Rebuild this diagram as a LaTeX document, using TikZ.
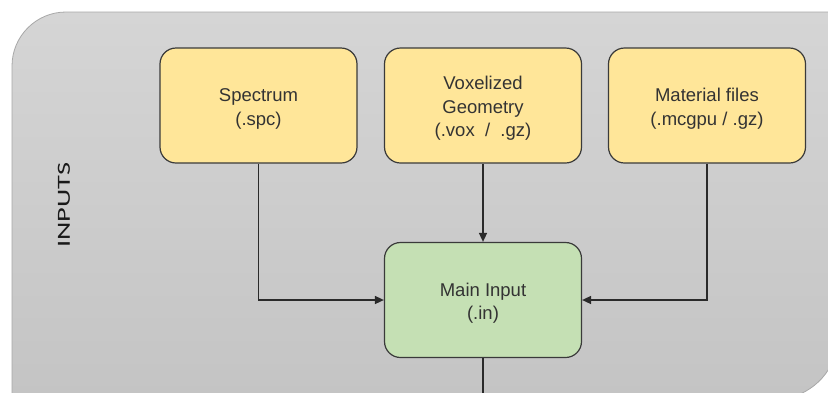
\documentclass[tikz,border=0pt]{standalone}
\usepackage{fontspec}
\setmainfont{Liberation Sans}
\newfontfamily\carlito{Carlito}
\usetikzlibrary{arrows.meta}
\definecolor{boxyellow}{HTML}{FFE699}
\definecolor{boxgreen}{HTML}{C5E0B4}
\definecolor{bgtop}{HTML}{D5D5D5}
\definecolor{bgbot}{HTML}{C3C3C3}
\definecolor{bgline}{HTML}{A8A8A8}
\definecolor{edge}{HTML}{3A3A3A}
\definecolor{txt}{HTML}{333333}
\definecolor{conn}{HTML}{2A2A2A}
\newcommand{\topstrut}{\rule{0pt}{19.5pt}}
\begin{document}
\begin{tikzpicture}[x=1pt,y=-1pt,
  filebox/.style={draw=edge, line width=1.2pt, fill=boxyellow, rounded corners=16pt,
    minimum width=197pt, minimum height=115pt, align=center, inner sep=0pt,
    text=txt, font=\fontsize{18.5}{23.5}\selectfont},
  mainbox/.style={filebox, fill=boxgreen},
  conn/.style={draw=conn, line width=1.5pt},
  arr/.style={conn, -{Triangle[length=9pt,width=8pt]}}]
\useasboundingbox (0,0) rectangle (828,392);
\clip (0,0) rectangle (828,392);
\draw[draw=bgline, line width=0.8pt, top color=bgtop, bottom color=bgbot]
  (12,420) -- (12,66) .. controls (12,36.2) and (36.2,12) .. (66,12)
  -- (836,12) -- (836,344)
  .. controls (836,373.8) and (806.2,398) .. (782,398) -- (12,398) -- cycle;
\node[rotate=90, text=black!90] (lbl) at (64,205) {\resizebox{85pt}{12pt}{\carlito INPUTS}};
\node[filebox] (spec) at (258.5,105.5) {\topstrut Spectrum\\(.spc)};
\node[filebox] (vox) at (483,105.5) {\topstrut Voxelized\\Geometry\\(.vox\ \ /\ \ .gz)};
\node[filebox] (mat) at (707,105.5) {\topstrut Material files\\(.mcgpu\ /\ .gz)};
\node[mainbox] (main) at (483,300) {\topstrut Main Input\\(.in)};
\coordinate (out) at (483,400);
\draw[arr] (spec.south) |- (main.west);
\draw[arr] (vox.south) -- (main.north);
\draw[arr] (mat.south) |- (main.east);
\draw[conn] (main.south) -- (out);
\end{tikzpicture}
\end{document}
